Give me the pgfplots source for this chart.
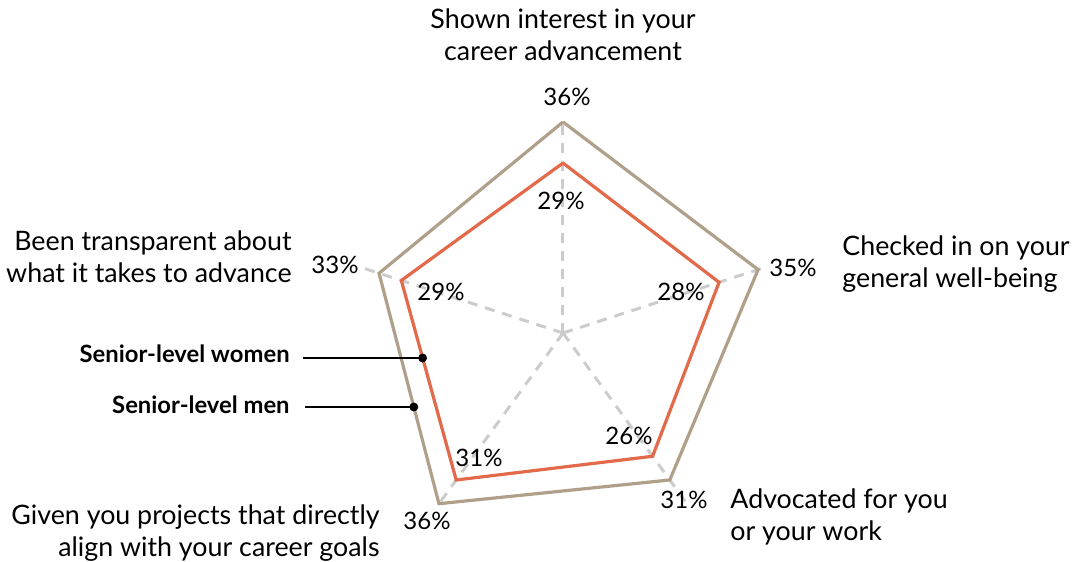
\documentclass[border=0pt]{standalone}
\usepackage{pgfplots}
\pgfplotsset{compat=1.18}
\usepackage{fontspec}
\setmainfont{Lato}
\definecolor{men}{RGB}{176,160,138}
\definecolor{women}{RGB}{226,105,74}
\definecolor{spoke}{RGB}{204,204,204}
\begin{document}
\begin{tikzpicture}
\fontsize{12}{16}\selectfont
\begin{axis}[hide axis, x=2.9306pt, y=2.9306pt, xmin=-40, xmax=40, ymin=-40, ymax=40,
  clip=false, anchor=origin, at={(0,0)}]
% spokes
\foreach \a in {90,18,-54,-126,162}{
  \addplot[spoke, line width=1.5pt, dash pattern=on 5pt off 4pt, data cs=polar] coordinates {(\a,0) (\a,36)};
}
% men
\addplot[men, line width=1.6pt, line join=miter, data cs=polar] coordinates {(90,36) (18,35) (-54,31) (-126,36) (162,33) (90,36)};
% women
\addplot[women, line width=1.6pt, line join=miter, data cs=polar] coordinates {(90,29) (18,28) (-54,26) (-126,31) (162,29) (90,29)};
% annotation dots
\addplot[black, only marks, mark=*, mark size=2pt, data cs=polar] coordinates {(190.1,24.33)};
\addplot[black, only marks, mark=*, mark size=2pt, data cs=polar] coordinates {(206.38,28.41)};
\end{axis}
\draw[black, line width=0.8pt] (-130pt,-12.5pt) -- (-70.2pt,-12.5pt);
\draw[black, line width=0.8pt] (-129pt,-37pt) -- (-74.6pt,-37pt);
% category labels
\begin{scope}[every node/.style={font=\fontsize{13.4}{16}\selectfont, inner sep=0pt}]
\node[align=center] at (0pt,149pt) {Shown interest in your\\career advancement};
\node[align=left, anchor=west] at (139.5pt,34.5pt) {Checked in on your\\general well-being};
\node[align=left, anchor=west] at (83.5pt,-92pt) {Advocated for you\\or your work};
\node[align=right, anchor=east] at (-91.5pt,-100pt) {Given you projects that directly\\align with your career goals};
\node[align=right, anchor=east] at (-135.5pt,38pt) {Been transparent about\\what it takes to advance};
\end{scope}
\node[anchor=east, inner sep=0pt, font=\fontsize{11.9}{14}\selectfont\bfseries] at (-136.5pt,-10.5pt) {Senior-level women};
\node[anchor=east, inner sep=0pt, font=\fontsize{11.9}{14}\selectfont\bfseries] at (-136.5pt,-36pt) {Senior-level men};
% values
\node at (2pt,118pt) {36\%};
\node at (-1pt,66pt) {29\%};
\node at (115pt,32.5pt) {35\%};
\node at (59pt,20.5pt) {28\%};
\node at (60.5pt,-83.5pt) {31\%};
\node at (33pt,-51.5pt) {26\%};
\node at (-68pt,-94pt) {36\%};
\node at (-42pt,-62.5pt) {31\%};
\node at (-114pt,34pt) {33\%};
\node at (-61pt,20.5pt) {29\%};
\pgfresetboundingbox
\path[use as bounding box] (-281.5pt,166.5pt) rectangle (255pt,-114.5pt);
\end{tikzpicture}
\end{document}
